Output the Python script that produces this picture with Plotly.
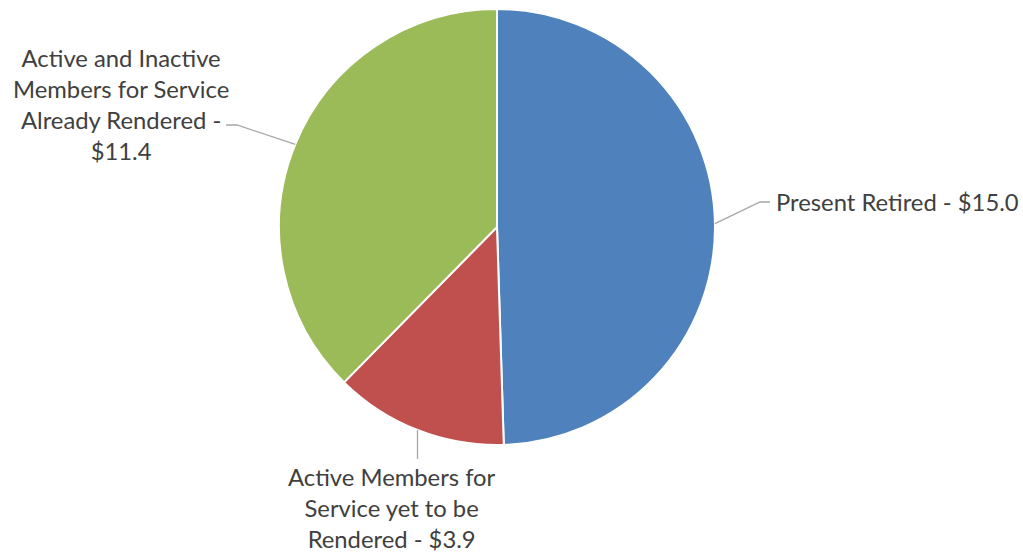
import math
import plotly.graph_objects as go

# Liability components ($ billions)
labels = ["Present Retired", "Active Members for Service yet to be Rendered",
          "Active and Inactive Members for Service Already Rendered"]
label_text = ["Present Retired - $15.0",
              "Active Members for<br>Service yet to be<br>Rendered - $3.9",
              "Active and Inactive<br>Members for Service<br>Already Rendered -<br>$11.4"]
values = [15.0, 3.9, 11.4]
colors = ["#4F81BD", "#C0504D", "#9BBB59"]

W, H = 1023, 554
cx, cy, r = 497, 227, 218  # pie centre / radius in pixels

fig = go.Figure(go.Pie(
    labels=labels, values=values, sort=False, direction="clockwise", rotation=0,
    marker=dict(colors=colors, line=dict(color="white", width=2)),
    textinfo="none", hoverinfo="label+value", showlegend=False,
    domain=dict(x=[(cx - r) / W, (cx + r) / W], y=[(H - cy - r) / H, (H - cy + r) / H]),
))

def px(x, y):
    return x / W, 1 - y / H

# label placement (pixel anchor, alignment) and elbow of each leader line
label_pos = [(774, 202, "left", "middle"), (392, 508, "center", "middle"), (121, 104, "center", "middle")]
elbows = [[(760, 202), (770, 202)], [], [(237, 125), (226, 125)]]

total = sum(values)
acc = 0.0
shapes, annotations = [], []
for i, v in enumerate(values):
    mid = (acc + v / 2) / total * 2 * math.pi
    acc += v
    sx, sy = cx + r * math.sin(mid), cy - r * math.cos(mid)
    lx, ly, xa, ya = label_pos[i]
    pts = [(sx, sy)] + elbows[i]
    if not elbows[i]:
        pts.append((sx, ly - 49))
    path = "M " + " L ".join(f"{px(a, b)[0]},{px(a, b)[1]}" for a, b in pts)
    shapes.append(dict(type="path", path=path, xref="paper", yref="paper",
                       line=dict(color="#A6A6A6", width=1.3)))
    ax_, ay_ = px(lx, ly)
    annotations.append(dict(text=label_text[i], x=ax_, y=ay_, xref="paper", yref="paper",
                            xanchor=xa, yanchor=ya, align="center", showarrow=False,
                            font=dict(family="Lato", size=23.8, color="#404040")))

fig.update_layout(width=W, height=H, margin=dict(l=0, r=0, t=0, b=0),
                  paper_bgcolor="white", plot_bgcolor="white",
                  shapes=shapes, annotations=annotations)
fig.write_html("out.html")
